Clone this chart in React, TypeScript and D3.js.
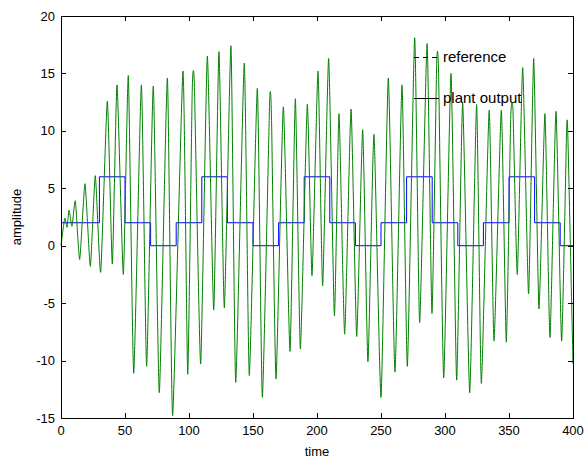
import React, { useRef, useEffect } from "react";
import * as d3 from "d3";

// axis ticks
const timeTicks = [0, 50, 100, 150, 200, 250, 300, 350, 400];
const ampTicks = [-15, -10, -5, 0, 5, 10, 15, 20];

// reference step signal: level holds from each time until the next
const refTimes = [0, 30, 50, 70, 90, 110, 130, 150, 170, 190, 210, 230, 250, 270, 290, 310, 330, 350, 370, 390, 400];
const refLevels = [2, 6, 2, 0, 2, 6, 2, 0, 2, 6, 2, 0, 2, 6, 2, 0, 2, 6, 2, 0, 0];

const outTimes = [
  0, 2.9, 4.7, 6.3, 8.6, 11.2, 14.6, 18.75, 22.9, 26.8, 31.0, 36.2, 40.1, 43.75, 48.7, 52.6, 56.8,
  62.8, 66.9, 72.1, 76.8, 83.1, 87.2, 95.3, 99.0, 102.5, 104.2, 109.1, 114.3, 119.3, 123.4, 127.6,
  132.8, 136.5, 143.2, 147.1, 153.4, 157.3, 163.0, 164.5, 168.0, 173.7, 178.9, 183.1, 187.0, 192.4,
  196.1, 200.8, 204.4, 209.1, 213.6, 217.2, 221.6, 226.6, 231.0, 235.7, 239.8, 244.5, 250.0, 255.7,
  260.9, 266.4, 270.6, 276.3, 280.2, 286.0, 289.8, 293.5, 295.0, 299.0, 304.7, 309.1, 313.8, 319.3,
  324.7, 328.4, 334.5, 338.3, 344.0, 347.9, 351.3, 353.1, 356.5, 360.7, 365.3, 369.3, 373.4, 378.1,
  382.0, 386.7, 391.1, 395.0, 396.0, 400,
];
const outValues = [
  0, 2.4, 1.6, 3.1, 1.7, 3.9, -1.2, 5.4, -1.8, 6.1, -2.3, 12.6, -1.6, 14.0, -2.5, 14.8, -11.1,
  14.0, -10.5, 13.9, -12.8, 14.6, -14.8, 15.2, -11.2, 13.4, 14.0, -10.3, 16.5, -5.6, 16.9, -5.4,
  17.4, -11.9, 15.9, -11.3, 13.7, -13.2, 12.5, 10.9, -11.6, 12.1, -9.2, 12.8, -9.0, 12.3,
  -2.6, 15.2, -3.5, 16.3, -6.1, 11.5, -7.7, 11.9, -7.9, 10.1, -10.1, 9.7, -13.2, 14.6,
  -11.0, 14.0, -10.5, 18.1, -6.7, 17.6, -5.9, 15.8, 15.0, -11.5, 15.0, -11.7, 12.4, -12.8,
  12.3, -12.0, 11.8, -8.3, 11.8, -8.4, 11.0, 11.8, -2.5, 15.5, -4.2, 16.3, -5.5, 11.5,
  -8.0, 11.7, -8.3, 10.0, 9.5, -10.3,
];

const legendLabels = ["reference", "plant output"];

const WIDTH = 585;
const HEIGHT = 459;
const FONT = "Arial, 'Liberation Sans', Helvetica, sans-serif";

function LineChart() {
  const svgRef = useRef<SVGSVGElement>(null);

  useEffect(() => {
    const svg = d3.select(svgRef.current);
    svg.selectAll("*").remove();

    const left = 61, right = 573, top = 16, bottom = 418;
    const x = d3.scaleLinear().domain([0, 400]).range([left, right]);
    const y = d3.scaleLinear().domain([-15, 20]).range([bottom, top]);

    svg.append("rect").attr("width", WIDTH).attr("height", HEIGHT).attr("fill", "white");

    const g = svg.append("g");

    // reference (blue, stepped)
    const refData = refTimes.map((t, i) => [t, refLevels[i]] as [number, number]);
    g.append("path")
      .datum(refData)
      .attr("fill", "none")
      .attr("stroke", "#0000ff")
      .attr("stroke-width", 1)
      .attr(
        "d",
        d3.line<[number, number]>()
          .x((d) => x(d[0]))
          .y((d) => y(d[1]))
          .curve(d3.curveStepAfter)
      );

    // plant output (green): half-tension cardinal keeps the tips fairly sharp
    const outData = outTimes.map((t, i) => [t, outValues[i]] as [number, number]);
    g.append("path")
      .datum(outData)
      .attr("fill", "none")
      .attr("stroke", "#008000")
      .attr("stroke-width", 1)
      .attr("stroke-linejoin", "round")
      .attr(
        "d",
        d3.line<[number, number]>()
          .x((d) => x(d[0]))
          .y((d) => y(d[1]))
          .curve(d3.curveCardinal.tension(0.5))
      );

    // frame
    svg.append("rect")
      .attr("x", left + 0.5)
      .attr("y", top + 0.5)
      .attr("width", right - left)
      .attr("height", bottom - top)
      .attr("fill", "none")
      .attr("stroke", "black")
      .attr("stroke-width", 1);

    const tickLen = 5;

    // x ticks (inward, top and bottom)
    timeTicks.forEach((t) => {
      const px = Math.round(x(t)) + 0.5;
      svg.append("line").attr("x1", px).attr("x2", px)
        .attr("y1", bottom).attr("y2", bottom - tickLen).attr("stroke", "black");
      svg.append("line").attr("x1", px).attr("x2", px)
        .attr("y1", top).attr("y2", top + tickLen).attr("stroke", "black");
      svg.append("text")
        .attr("x", x(t))
        .attr("y", bottom + 17)
        .attr("text-anchor", "middle")
        .style("font-family", FONT)
        .style("font-size", "13px")
        .text(t);
    });

    // y ticks (inward, left and right)
    ampTicks.forEach((v) => {
      const py = Math.round(y(v)) + 0.5;
      svg.append("line").attr("x1", left).attr("x2", left + tickLen)
        .attr("y1", py).attr("y2", py).attr("stroke", "black");
      svg.append("line").attr("x1", right).attr("x2", right - tickLen)
        .attr("y1", py).attr("y2", py).attr("stroke", "black");
      svg.append("text")
        .attr("x", left - 6)
        .attr("y", y(v) + 4.5)
        .attr("text-anchor", "end")
        .style("font-family", FONT)
        .style("font-size", "13px")
        .text(v);
    });

    // axis labels
    svg.append("text")
      .attr("x", (left + right) / 2)
      .attr("y", 456)
      .attr("text-anchor", "middle")
      .style("font-family", FONT)
      .style("font-size", "13px")
      .text("time");

    svg.append("text")
      .attr("transform", `translate(21, ${(top + bottom) / 2}) rotate(-90)`)
      .attr("text-anchor", "middle")
      .style("font-family", FONT)
      .style("font-size", "13px")
      .text("amplitude");

    // legend (black samples, no box)
    const legend = svg.append("g").attr("transform", "translate(414, 57)");
    legendLabels.forEach((label, i) => {
      const ly = i * 41;
      legend.append("line")
        .attr("x1", 0).attr("x2", 25)
        .attr("y1", ly + 0.5).attr("y2", ly + 0.5)
        .attr("stroke", "black")
        .attr("stroke-dasharray", i === 0 ? "5,4" : null);
      legend.append("text")
        .attr("x", 29)
        .attr("y", ly + 5)
        .style("font-family", FONT)
        .style("font-size", "15px")
        .text(label);
    });
  }, []);

  return (
    <svg
      ref={svgRef}
      width={WIDTH}
      height={HEIGHT}
      style={{ position: "absolute", left: 0, top: 0, display: "block" }}
    ></svg>
  );
}

export default function App() {
  return <LineChart />;
}
